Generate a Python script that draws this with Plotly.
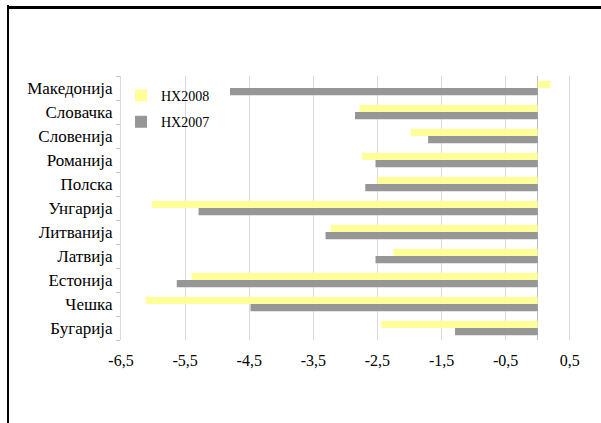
import plotly.graph_objects as go

categories = ["Бугарија", "Чешка", "Естонија", "Латвија", "Литванија", "Унгарија",
              "Полска", "Романија", "Словенија", "Словачка", "Македонија"]
hx2008 = [-2.44, -6.11, -5.40, -2.25, -3.23, -6.02, -2.50, -2.74, -1.98, -2.78, 0.2]
hx2007 = [-1.29, -4.48, -5.63, -2.53, -3.31, -5.29, -2.69, -2.53, -1.71, -2.85, -4.8]
tick_vals = [-6.5, -5.5, -4.5, -3.5, -2.5, -1.5, -0.5, 0.5]
tick_text = ["-6,5", "-5,5", "-4,5", "-3,5", "-2,5", "-1,5", "-0,5", "0,5"]

W, H = 601, 423
ML, MR, MT, MB = 121, 28, 76, 83
FONT = "Liberation Serif"

fig = go.Figure()
fig.add_trace(go.Bar(y=categories, x=hx2007, orientation="h", name="НХ2007",
                     legendrank=2, legendgroup="g2",
                     marker=dict(color="#969696", line=dict(width=0))))
fig.add_trace(go.Bar(y=categories, x=hx2008, orientation="h", name="НХ2008",
                     legendrank=1, legendgroup="g1",
                     marker=dict(color="#FFFF99", line=dict(width=0))))

fig.update_layout(
    width=W, height=H,
    margin=dict(l=ML, r=MR, t=MT, b=MB),
    paper_bgcolor="white", plot_bgcolor="white",
    barmode="group", bargap=0.4, bargroupgap=0,
    font=dict(family=FONT, size=16, color="black"),
    showlegend=True,
    legend=dict(x=0.0, y=0.985, xanchor="left", yanchor="top",
                traceorder="grouped", bgcolor="rgba(0,0,0,0)",
                font=dict(family=FONT, size=14), itemsizing="constant",
                tracegroupgap=5, itemwidth=30),
    xaxis=dict(range=[-6.5, 0.55], tickvals=tick_vals, ticktext=tick_text,
               showgrid=True, gridcolor="#d9d9d9", gridwidth=1,
               zeroline=True, zerolinecolor="#c0c0c0", zerolinewidth=1,
               showline=False, ticks="", tickfont=dict(family=FONT, size=16),
               ticklabelstandoff=9),
    yaxis=dict(categoryorder="array", categoryarray=categories,
               showgrid=False, zeroline=False, showline=True, linecolor="#d9d9d9",
               ticks="outside", ticklen=4, tickcolor="#bfbfbf", tickson="boundaries",
               tickfont=dict(family=FONT, size=17), ticklabelstandoff=4),
)

post = """
document.body.style.margin='0';
document.body.style.overflow='hidden';
var l=document.createElement('div');
l.style.cssText='position:fixed;left:7px;top:5px;width:2px;height:418px;background:black;pointer-events:none;z-index:10;';
document.body.appendChild(l);
var t=document.createElement('div');
t.style.cssText='position:fixed;left:7px;top:6px;width:594px;height:3px;background:black;pointer-events:none;z-index:10;';
document.body.appendChild(t);
"""

fig.write_html("out.html", config={"displayModeBar": False}, post_script=post)
